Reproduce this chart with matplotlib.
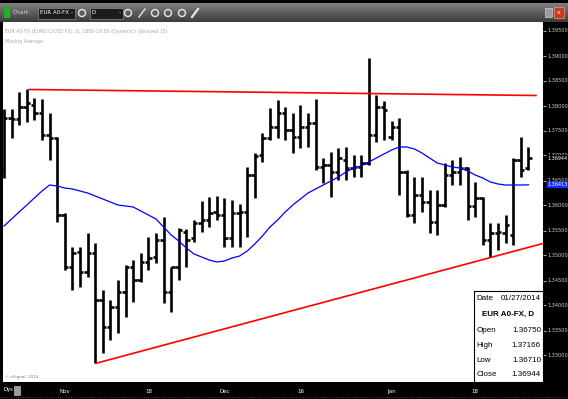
import numpy as np
import pandas as pd
import matplotlib
matplotlib.use("Agg")
import matplotlib.pyplot as plt
from matplotlib.patches import Rectangle, Circle

W, H = 568, 399

# Barras diarias EUR A0-FX, 22/10/2013 - 27/01/2014
dates = pd.bdate_range("2013-10-22", "2014-01-27")

opens = [1.3673, 1.3775, 1.3773, 1.3797, 1.3801, 1.3785, 1.3741, 1.3735, 1.3581, 1.3477,
         1.3507, 1.3467, 1.3505, 1.3411, 1.3357, 1.3397, 1.3427, 1.3477, 1.3451, 1.3487,
         1.3497, 1.3531, 1.3427, 1.3477, 1.3547, 1.3535, 1.3565, 1.3571, 1.3587, 1.3581,
         1.3535, 1.3585, 1.3587, 1.3661, 1.3701, 1.3735, 1.3757, 1.3785, 1.3751, 1.3737,
         1.3757, 1.3765, 1.3677, 1.3681, 1.3667, 1.3691, 1.3675, 1.3677, 1.3685, 1.3741,
         1.3797, 1.3737, 1.3757, 1.3667, 1.3581, 1.3621, 1.3607, 1.3567, 1.3601, 1.3661,
         1.3667, 1.3675, 1.3599, 1.3615, 1.3531, 1.3545, 1.3545, 1.3541, 1.3691, 1.36750]
highs = [1.3793, 1.3793, 1.3827, 1.3833, 1.3815, 1.3813, 1.3785, 1.3737, 1.3585, 1.3517,
         1.3517, 1.3545, 1.3525, 1.3431, 1.3411, 1.3451, 1.3481, 1.3491, 1.3505, 1.3537,
         1.3545, 1.3577, 1.3477, 1.3555, 1.3553, 1.3571, 1.3609, 1.3617, 1.3619, 1.3615,
         1.3611, 1.3603, 1.3677, 1.3705, 1.3745, 1.3795, 1.3811, 1.3797, 1.3785, 1.3801,
         1.3785, 1.3813, 1.3695, 1.3707, 1.3715, 1.3717, 1.3701, 1.3701, 1.3895, 1.3821,
         1.3809, 1.3769, 1.3775, 1.3671, 1.3657, 1.3657, 1.3631, 1.3631, 1.3685, 1.3691,
         1.3697, 1.3677, 1.3647, 1.3617, 1.3565, 1.3565, 1.3581, 1.3695, 1.3737, 1.37166]
lows = [1.3655, 1.3735, 1.3761, 1.3767, 1.3771, 1.3731, 1.3691, 1.3567, 1.3471, 1.3431,
        1.3437, 1.3457, 1.3285, 1.3305, 1.3331, 1.3345, 1.3377, 1.3407, 1.3447, 1.3471,
        1.3485, 1.3405, 1.3387, 1.3451, 1.3477, 1.3527, 1.3547, 1.3557, 1.3571, 1.3517,
        1.3517, 1.3517, 1.3537, 1.3615, 1.3687, 1.3731, 1.3735, 1.3731, 1.3705, 1.3715,
        1.3717, 1.3671, 1.3645, 1.3617, 1.3651, 1.3651, 1.3657, 1.3657, 1.3681, 1.3727,
        1.3731, 1.3731, 1.3621, 1.3577, 1.3565, 1.3587, 1.3545, 1.3541, 1.3597, 1.3641,
        1.3641, 1.3571, 1.3577, 1.3521, 1.3497, 1.3511, 1.3525, 1.3521, 1.3657, 1.36710]
closes = [1.3775, 1.3773, 1.3797, 1.3805, 1.3785, 1.3741, 1.3735, 1.3581, 1.3477, 1.3505,
          1.3467, 1.3505, 1.3411, 1.3357, 1.3397, 1.3427, 1.3477, 1.3451, 1.3487, 1.3495,
          1.3531, 1.3427, 1.3477, 1.3551, 1.3531, 1.3565, 1.3571, 1.3585, 1.3581, 1.3535,
          1.3585, 1.3587, 1.3661, 1.3699, 1.3735, 1.3757, 1.3785, 1.3751, 1.3737, 1.3757,
          1.3765, 1.3677, 1.3681, 1.3667, 1.3695, 1.3675, 1.3677, 1.3685, 1.3741, 1.3797,
          1.3791, 1.3757, 1.3667, 1.3581, 1.3621, 1.3607, 1.3567, 1.3601, 1.3661, 1.3667,
          1.3675, 1.3599, 1.3615, 1.3531, 1.3545, 1.3547, 1.3561, 1.3691, 1.3671, 1.36944]

# Media móvil (azul), leída punto a punto
ma = [1.3559, 1.3573, 1.3587, 1.3601, 1.3615, 1.3629, 1.3641, 1.3639, 1.3635, 1.3633,
      1.3629, 1.3625, 1.3619, 1.3613, 1.3607, 1.3601, 1.3599, 1.3597, 1.3589, 1.3581,
      1.3573, 1.3557, 1.3541, 1.3529, 1.3515, 1.3503, 1.3497, 1.3491, 1.3487, 1.3489,
      1.3495, 1.3499, 1.3509, 1.3523, 1.3539, 1.3557, 1.3571, 1.3587, 1.3601, 1.3613,
      1.3625, 1.3633, 1.3641, 1.3649, 1.3657, 1.3667, 1.3675, 1.3679, 1.3687, 1.3695,
      1.3703, 1.3711, 1.3717, 1.3717, 1.3713, 1.3705, 1.3695, 1.3685, 1.3681, 1.3677,
      1.3675, 1.3669, 1.3661, 1.3655, 1.3647, 1.3643, 1.3641, 1.3641, 1.3641, 1.36413]

# Líneas de tendencia (índice de barra, precio)
res_x = [3.2, 70.1]
res_y = [1.3832, 1.3820]
sup_x = [12.0, 70.9]
sup_y = [1.3284, 1.3524]

tick_dates = ["2013-11-01", "2013-11-18", "2013-12-02", "2013-12-16", "2014-01-01", "2014-01-16"]
tick_labels = ["Nov", "18", "Dec", "16", "Jan", "18"]
price_ticks = np.round(np.arange(1.330, 1.39501, 0.005), 3)

last_price = closes[-1]
last_ma = ma[-1]

info_rows = [("Open", "1.36750"), ("High", "1.37166"), ("Low", "1.36710"), ("Close", "1.36944")]

fig = plt.figure(figsize=(W / 100, H / 100), dpi=100, facecolor="black")

# barra de herramientas superior
tb = fig.add_axes([0, 1 - 22 / H, 1, 22 / H])
grad = np.concatenate([np.zeros(3), np.linspace(0.50, 0.24, 19)])[:, None]
tb.imshow(grad, cmap="gray", vmin=0, vmax=1, aspect="auto", extent=(0, W, 22, 0))
tb.set_xlim(0, W)
tb.set_ylim(22, 0)
tb.axis("off")
for gx in (3.5, 6.5):
    tb.add_patch(Rectangle((gx, 7), 2, 10, color="#22b022"))
tb.text(13, 13, "Chart", color="#d8d8d8", fontsize=4.3, va="center")
for bx, bw, lab in ((38, 37, "EUR A0-FX"), (90, 33, "D")):
    tb.add_patch(Rectangle((bx, 7.5), bw, 11, facecolor="#1c1c1c", edgecolor="#8a8a8a", lw=0.5))
    tb.text(bx + 2, 13, lab, color="white", fontsize=4.0, va="center")
    tb.text(bx + bw - 4, 13, "-", color="white", fontsize=4.0, va="center")
for cx in (82, 128, 155, 168, 182):
    tb.add_patch(Circle((cx, 13), 3.5, facecolor="none", edgecolor="#e8e8e8", lw=1.0))
tb.plot([139, 145], [17, 9], color="#e8e8e8", lw=1.0)
tb.plot([192, 198], [17, 9], color="#e8e8e8", lw=1.6)
tb.add_patch(Rectangle((545, 8), 7, 9, facecolor="#9a9a9a", edgecolor="#d0d0d0", lw=0.5))
tb.add_patch(Rectangle((554, 7), 10, 11, facecolor="#c83a20", edgecolor="#e0a090", lw=0.5))
tb.text(559, 12.5, "x", color="white", fontsize=4.5, ha="center", va="center")

# gráfico principal
ax = fig.add_axes([3 / W, 1 - 382 / H, 540 / W, 360 / H])
ax.set_facecolor("white")
x = np.arange(len(dates))
ax.vlines(x, lows, highs, color="black", lw=1.9)
ax.hlines(opens, x - 0.45, x, color="black", lw=1.9)
ax.hlines(closes, x, x + 0.45, color="black", lw=1.9)
ax.plot(x, ma, color="#0000ff", lw=0.9)
ax.plot(res_x, res_y, color="#ff0000", lw=1.2, solid_capstyle="butt")
ax.plot(sup_x, sup_y, color="#ff0000", lw=1.2, solid_capstyle="butt")

ax.set_xlim(-0.13, 70.92)
ax.set_ylim(1.3247, 1.3967)
for s in ax.spines.values():
    s.set_visible(False)

ax.yaxis.tick_right()
ax.set_yticks(price_ticks)
ax.set_yticklabels([f"{v:.5f}" for v in price_ticks])
ax.tick_params(axis="y", colors="white", labelcolor="#d0d0d0", length=2, width=0.5,
               labelsize=3.6, pad=1.5)
pos = [dates.get_loc(pd.Timestamp(d)) for d in tick_dates]
ax.set_xticks(pos)
ax.set_xticklabels(tick_labels)
ax.tick_params(axis="x", length=0, labelcolor="white", labelsize=4.0, pad=5)

yt = ax.get_yaxis_transform()
ax.text(1.008, last_price, f"{last_price:.5f}", transform=yt, ha="left", va="center",
        fontsize=3.5, color="white", clip_on=False,
        bbox=dict(boxstyle="square,pad=0.15", facecolor="black", edgecolor="none"))
ax.text(1.008, last_ma, f"{last_ma:.5f}", transform=yt, ha="left", va="center",
        fontsize=3.5, color="white", clip_on=False,
        bbox=dict(boxstyle="round,pad=0.15", facecolor="#1030ff", edgecolor="none"))

ax.text(0.004, 0.975, "EUR A0-FX (EURO C/USD FX), D, 1800-19:00 (Dynamic) (delayed 15)",
        transform=ax.transAxes, fontsize=3.4, color="#a8a8a8", va="center")
ax.text(0.004, 0.947, "Moving Average", transform=ax.transAxes, fontsize=3.4,
        color="#a8a8a8", va="center")
ax.text(0.004, 0.014, "\u00a9 eSignal, 2014", transform=ax.transAxes, fontsize=3.0,
        color="#808080", va="center")

# cuadro de datos
box = fig.add_axes([474 / W, 1 - 382 / H, 69 / W, 91 / H])
box.set_facecolor("white")
box.set_xticks([])
box.set_yticks([])
for s in box.spines.values():
    s.set_color("black")
    s.set_linewidth(0.8)
fnt = dict(family="Liberation Sans", fontsize=5.8, color="black", va="center")
box.text(0.04, (382 - 298) / 91, "Date", ha="left", **fnt)
box.text(0.97, (382 - 298) / 91, "01/27/2014", ha="right", **fnt)
box.text(0.5, (382 - 314) / 91, "EUR A0-FX, D", ha="center", fontweight="bold", **fnt)
for k, (lab, val) in enumerate(info_rows):
    yy = (382 - (331 + 14.5 * k)) / 91
    box.text(0.04, yy, lab, ha="left", **fnt)
    box.text(0.97, yy, val, ha="right", **fnt)

# banda inferior
fig.text(3 / W, 1 - 390 / H, "Dys", color="white", fontsize=3.8, va="center")
fig.add_artist(Rectangle((14 / W, 1 - 395 / H), 6 / W, 9 / H, transform=fig.transFigure,
                         facecolor="#9a9a9a", edgecolor="#d0d0d0", lw=0.4))
fig.add_artist(plt.Line2D([0, 1], [1 - 397 / H, 1 - 397 / H], transform=fig.transFigure,
                          color="#505050", lw=0.6, ls=":"))

fig.savefig("out.png", dpi=100, facecolor="black")
